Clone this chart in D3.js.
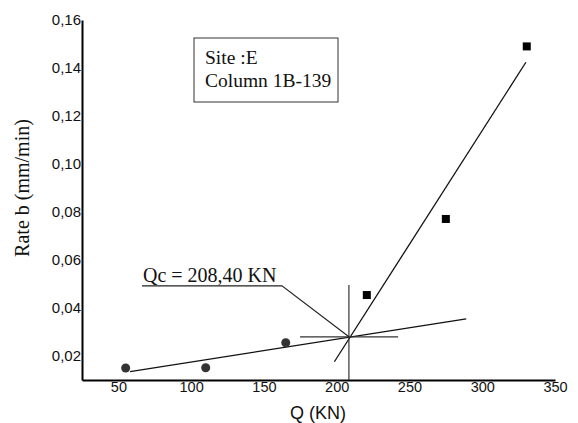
<!DOCTYPE html>
<html>
<head>
<meta charset="utf-8">
<script src="https://cdn.jsdelivr.net/npm/d3@7"></script>
<style>
  body { margin: 0; background: #fff; }
  svg { display: block; }
</style>
</head>
<body>
<script>
// measured points (Q in KN, rate b in mm/min)
var circleQ = [55, 110, 165];
var circleRate = [0.015, 0.0151, 0.0255];
var squareQ = [220.7, 275, 330.6];
var squareRate = [0.0454, 0.0771, 0.149];

// the two fitted lines (end points)
var lowFit = [[58, 0.0135], [289, 0.0355]];
var steepFit = [[198.4, 0.0176], [330, 0.1424]];

// critical load
var qc = 208.4;
var qcRate = 0.028;
var qcLabel = "Qc = 208,40 KN";

var xTicks = [50, 100, 150, 200, 250, 300, 350];
var yTicks = [0.02, 0.04, 0.06, 0.08, 0.10, 0.12, 0.14, 0.16];

var width = 578;
var height = 423;

var svg = d3.select("body")
  .append("svg")
  .attr("width", width)
  .attr("height", height);

var x = d3.scaleLinear().domain([25, 350]).range([82, 555]);
var y = d3.scaleLinear().domain([0.01, 0.16]).range([380, 20]);

//axes
var xAxis = d3.axisBottom(x)
  .tickValues(xTicks)
  .tickSizeInner(0)
  .tickSizeOuter(0)
  .tickPadding(2);

var yAxis = d3.axisLeft(y)
  .tickValues(yTicks)
  .tickFormat(function(d) { return d3.format(".2f")(d).replace(".", ","); })
  .tickSizeInner(0)
  .tickSizeOuter(0)
  .tickPadding(1);

var gx = svg.append("g")
  .attr("transform", "translate(0," + y.range()[0] + ")")
  .call(xAxis);

var gy = svg.append("g")
  .attr("transform", "translate(" + x.range()[0] + ",0)")
  .call(yAxis);

[gx, gy].forEach(function(g) {
  g.select(".domain").attr("stroke", "#000").attr("stroke-width", 2);
  g.selectAll("text")
    .attr("fill", "#111")
    .style("font-family", "Liberation Sans, Arial, sans-serif");
});
gx.selectAll("text").style("font-size", "14.5px");
gy.selectAll("text").style("font-size", "15px");

svg.append("text")
  .attr("x", 318)
  .attr("y", 419)
  .attr("text-anchor", "middle")
  .style("font-family", "Liberation Sans, Arial, sans-serif")
  .style("font-size", "18px")
  .attr("fill", "#111")
  .text("Q (KN)");

svg.append("text")
  .attr("transform", "translate(29,188) rotate(-90)")
  .attr("text-anchor", "middle")
  .style("font-family", "Liberation Serif, Times New Roman, serif")
  .style("font-size", "20px")
  .attr("fill", "#111")
  .text("Rate b (mm/min)");

var line = d3.line()
  .x(function(d) { return x(d[0]); })
  .y(function(d) { return y(d[1]); });

//fit lines
svg.selectAll("path.fit")
  .data([lowFit, steepFit])
  .enter()
  .append("path")
  .attr("class", "fit")
  .attr("d", line)
  .attr("fill", "none")
  .attr("stroke", "#111")
  .attr("stroke-width", 1.3);

//cross hair at Qc
var crossV = [[qc, 0.01], [qc, 0.0496]];
var crossH = [[174.8, qcRate], [242.2, qcRate]];
svg.selectAll("path.cross")
  .data([crossV, crossH])
  .enter()
  .append("path")
  .attr("class", "cross")
  .attr("d", line)
  .attr("fill", "none")
  .attr("stroke", "#333")
  .attr("stroke-width", 1.2);

//label leader
var leader = [[66.2, 0.0492], [162.4, 0.0492], [qc, qcRate]];
svg.append("path")
  .attr("d", line(leader))
  .attr("fill", "none")
  .attr("stroke", "#222")
  .attr("stroke-width", 1.1);

svg.append("text")
  .attr("x", x(66.2) + 1)
  .attr("y", y(0.0492) - 4)
  .style("font-family", "Liberation Serif, Times New Roman, serif")
  .style("font-size", "20px")
  .attr("fill", "#111")
  .text(qcLabel);

//points
var circles = circleQ.map(function(q, i) { return [q, circleRate[i]]; });
var squares = squareQ.map(function(q, i) { return [q, squareRate[i]]; });

svg.selectAll("circle.pt")
  .data(circles)
  .enter()
  .append("circle")
  .attr("class", "pt")
  .attr("cx", function(d) { return x(d[0]); })
  .attr("cy", function(d) { return y(d[1]); })
  .attr("r", 4.5)
  .attr("fill", "#333");

svg.selectAll("rect.pt")
  .data(squares)
  .enter()
  .append("rect")
  .attr("class", "pt")
  .attr("x", function(d) { return x(d[0]) - 4; })
  .attr("y", function(d) { return y(d[1]) - 4; })
  .attr("width", 8)
  .attr("height", 8)
  .attr("fill", "#000");

//site box
var box = svg.append("g").attr("transform", "translate(194,38)");
box.append("rect")
  .attr("width", 144)
  .attr("height", 64)
  .attr("fill", "#fff")
  .attr("stroke", "#333")
  .attr("stroke-width", 1);
box.selectAll("text")
  .data(["Site :E", "Column 1B-139"])
  .enter()
  .append("text")
  .attr("x", 11)
  .attr("y", function(d, i) { return 26 + i * 23; })
  .style("font-family", "Liberation Serif, Times New Roman, serif")
  .style("font-size", "19.5px")
  .attr("fill", "#111")
  .text(function(d) { return d; });
</script>
</body>
</html>
